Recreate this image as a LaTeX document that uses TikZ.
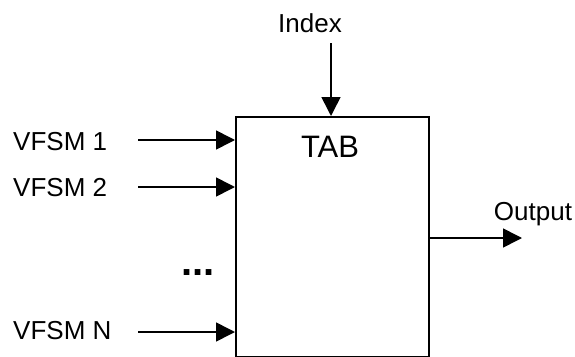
\documentclass[tikz,border=0pt]{standalone}
\usepackage{fontspec}
\setmainfont{Liberation Sans}
\usetikzlibrary{arrows.meta}
\begin{document}
\begin{tikzpicture}[x=1pt,y=-1pt,
  lbl/.style={inner sep=0pt,font=\fontsize{26}{30}\selectfont},
  conn/.style={line width=1.6pt,-{Triangle[length=19pt,width=19pt]}},
  blk/.style={draw,line width=1.6pt,rectangle,minimum width=193pt,minimum height=240pt,inner sep=0pt,anchor=north west}]
\useasboundingbox (0,0) rectangle (575,356);
\node[blk] (tab) at (235,116) {};
\node[inner sep=0pt,font=\fontsize{31}{34}\selectfont] (tabtext) at (330,147) {TAB};
\node[lbl] (idx) at (310,23) {Index};
\coordinate (idxs) at (331,43);
\draw[conn] (idxs) -- (idxs |- tab.north);
\node[lbl,anchor=west] (v1) at (13,142) {VFSM 1};
\node[lbl,anchor=west] (v2) at (13,188) {VFSM 2};
\node[lbl,anchor=west] (vn) at (13,331) {VFSM N};
\node[inner sep=0pt,font=\bfseries\fontsize{40}{42}\selectfont] (dots) at (198,273) {...};
\coordinate (s1) at (138,140);
\coordinate (s2) at (138,187);
\coordinate (sn) at (138,332);
\draw[conn] (s1) -- (s1 -| tab.west);
\draw[conn] (s2) -- (s2 -| tab.west);
\draw[conn] (sn) -- (sn -| tab.west);
\coordinate (oe) at (522,238);
\draw[conn] (oe -| tab.east) -- (oe);
\node[lbl] (out) at (533,214) {Output};
\end{tikzpicture}
\end{document}
